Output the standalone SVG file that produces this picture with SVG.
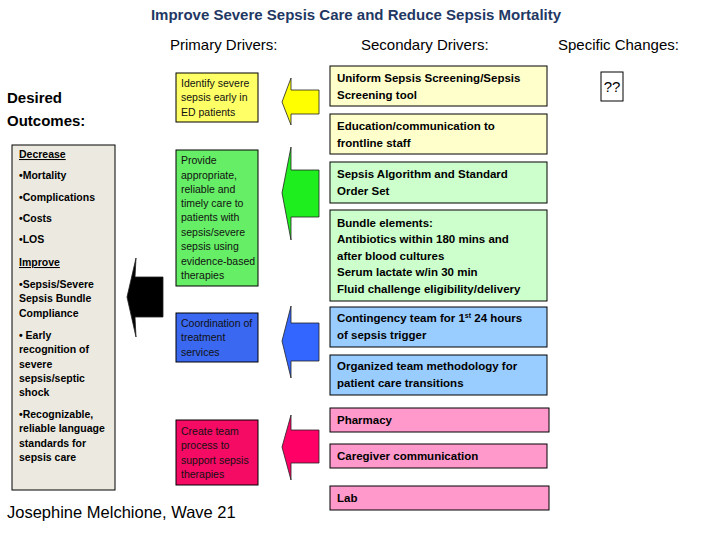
<svg xmlns="http://www.w3.org/2000/svg" width="720" height="540" viewBox="0 0 720 540">
<style>
text{font-family:"Liberation Sans",Arial,sans-serif;}
.title{font-size:15px;font-weight:bold;fill:#1F3864;text-anchor:middle;}
.hdr{font-size:15px;fill:#000;}
.big{font-size:15px;font-weight:bold;fill:#000;}
.out{font-size:10.5px;font-weight:bold;fill:#000;}
.pri{font-size:10.5px;fill:#111;}
.sec{font-size:11.5px;font-weight:bold;fill:#000;}
.box{stroke:#000;stroke-width:1;}
.arr{stroke:#222;stroke-width:0.8;}
</style>
<text class="title" x="356" y="20">Improve Severe Sepsis Care and Reduce Sepsis Mortality</text>
<text class="hdr" x="170" y="50">Primary Drivers:</text>
<text class="hdr" x="361" y="50">Secondary Drivers:</text>
<text class="hdr" x="558" y="50">Specific Changes:</text>
<g id="desired-outcomes">
<text class="big" x="7" y="103">Desired</text>
<text class="big" x="7" y="126">Outcomes:</text>
</g>
<g id="outcomes-box">
<rect class="box" x="12" y="145" width="103" height="345" fill="#ECEAE0"/>
<text class="out" x="19" y="158" text-decoration="underline">Decrease</text>
<text class="out" x="19" y="179">•Mortality</text>
<text class="out" x="19" y="201">•Complications</text>
<text class="out" x="19" y="222">•Costs</text>
<text class="out" x="19" y="243">•LOS</text>
<text class="out" x="19" y="266" text-decoration="underline">Improve</text>
<text class="out" x="19" y="288">•Sepsis/Severe</text>
<text class="out" x="19" y="302">Sepsis Bundle</text>
<text class="out" x="19" y="317">Compliance</text>
<text class="out" x="19" y="339">• Early</text>
<text class="out" x="19" y="353">recognition of</text>
<text class="out" x="19" y="368">severe</text>
<text class="out" x="19" y="382">sepsis/septic</text>
<text class="out" x="19" y="396">shock</text>
<text class="out" x="19" y="418">•Recognizable,</text>
<text class="out" x="19" y="432">reliable language</text>
<text class="out" x="19" y="447">standards for</text>
<text class="out" x="19" y="461">sepsis care</text>
</g>
<g id="primary-identify">
<rect class="box" x="176" y="73" width="82" height="49" fill="#FFFF66"/>
<text class="pri" x="181" y="87">Identify  severe</text>
<text class="pri" x="181" y="101">sepsis  early in</text>
<text class="pri" x="181" y="116">ED patients</text>
</g>
<g id="primary-provide">
<rect class="box" x="176" y="150" width="82" height="136" fill="#66EE66"/>
<text class="pri" x="181" y="164">Provide</text>
<text class="pri" x="181" y="179">appropriate,</text>
<text class="pri" x="181" y="193">reliable and</text>
<text class="pri" x="181" y="207">timely care to</text>
<text class="pri" x="181" y="221">patients  with</text>
<text class="pri" x="181" y="236">sepsis/severe</text>
<text class="pri" x="181" y="250">sepsis  using</text>
<text class="pri" x="181" y="265">evidence-based</text>
<text class="pri" x="181" y="279">therapies</text>
</g>
<g id="primary-coordination">
<rect class="box" x="176" y="313" width="82" height="49" fill="#3A68F0"/>
<text class="pri" x="181" y="327" fill="#0A1A50">Coordination of</text>
<text class="pri" x="181" y="341" fill="#0A1A50">treatment</text>
<text class="pri" x="181" y="356" fill="#0A1A50">services</text>
</g>
<g id="primary-team">
<rect class="box" x="176" y="420" width="82" height="65" fill="#F50A64"/>
<text class="pri" x="181" y="435" fill="#500018">Create team</text>
<text class="pri" x="181" y="449" fill="#500018">process to</text>
<text class="pri" x="181" y="464" fill="#500018">support sepsis</text>
<text class="pri" x="181" y="478" fill="#500018">therapies</text>
</g>
<g id="secondary-uniform">
<rect class="box" x="330" y="66" width="217" height="40" fill="#FFFFCC"/>
<text class="sec" x="337" y="82">Uniform Sepsis Screening/Sepsis</text>
<text class="sec" x="337" y="99">Screening tool</text>
</g>
<g id="secondary-education">
<rect class="box" x="330" y="114" width="217" height="40" fill="#FFFFCC"/>
<text class="sec" x="337" y="130">Education/communication to</text>
<text class="sec" x="337" y="147">frontline  staff</text>
</g>
<g id="secondary-algorithm">
<rect class="box" x="330" y="162" width="217" height="41" fill="#CCFFCC"/>
<text class="sec" x="337" y="178">Sepsis Algorithm and Standard</text>
<text class="sec" x="337" y="195">Order Set</text>
</g>
<g id="secondary-bundle">
<rect class="box" x="330" y="210" width="217" height="91" fill="#CCFFCC"/>
<text class="sec" x="337" y="227">Bundle elements:</text>
<text class="sec" x="337" y="243">Antibiotics within 180 mins and</text>
<text class="sec" x="337" y="260">after blood cultures</text>
<text class="sec" x="337" y="276">Serum lactate w/in 30 min</text>
<text class="sec" x="337" y="293">Fluid challenge eligibility/delivery</text>
</g>
<g id="secondary-contingency">
<rect class="box" x="330" y="307" width="217" height="40" fill="#99CCFF"/>
<text class="sec" x="337" y="322">Contingency team for 1<tspan font-size="7" dy="-4">st</tspan><tspan dy="4">  24 hours</tspan></text>
<text class="sec" x="337" y="339">of sepsis trigger</text>
</g>
<g id="secondary-organized">
<rect class="box" x="330" y="355" width="217" height="40" fill="#99CCFF"/>
<text class="sec" x="337" y="370">Organized team methodology  for</text>
<text class="sec" x="337" y="387">patient care transitions</text>
</g>
<g id="secondary-pharmacy">
<rect class="box" x="330" y="408" width="219" height="24" fill="#FF99CC"/>
<text class="sec" x="337" y="424">Pharmacy</text>
</g>
<g id="secondary-caregiver">
<rect class="box" x="330" y="444" width="217" height="24" fill="#FF99CC"/>
<text class="sec" x="337" y="460">Caregiver communication</text>
</g>
<g id="secondary-lab">
<rect class="box" x="330" y="486" width="219" height="24" fill="#FF99CC"/>
<text class="sec" x="337" y="502">Lab</text>
</g>
<g id="specific-changes">
<rect class="box" x="601" y="72" width="22" height="29" fill="#FFFFFF"/>
<text x="612" y="92" font-size="15" text-anchor="middle" fill="#000">??</text>
</g>
<g id="connectors">
<polygon class="arr" fill="#000000" points="163,277 135,277 136,258 127,297 136,337 135,317 163,317"/>
<polygon class="arr" fill="#FFFF00" points="319,90 291,90 291,78 282,102 291,125 291,114 319,114"/>
<polygon class="arr" fill="#1EEE1E" points="319,170 291,170 291,147 282,193 291,240 291,217 319,217"/>
<polygon class="arr" fill="#3366FF" points="319,323 291,323 291,306 282,341 291,378 291,361 319,361"/>
<polygon class="arr" fill="#FF0066" points="319,430 291,430 291,415 282,447 291,480 291,463 319,463"/>
</g>
<text x="7" y="518" font-size="16.5" fill="#000">Josephine Melchione, Wave 21</text>
</svg>
